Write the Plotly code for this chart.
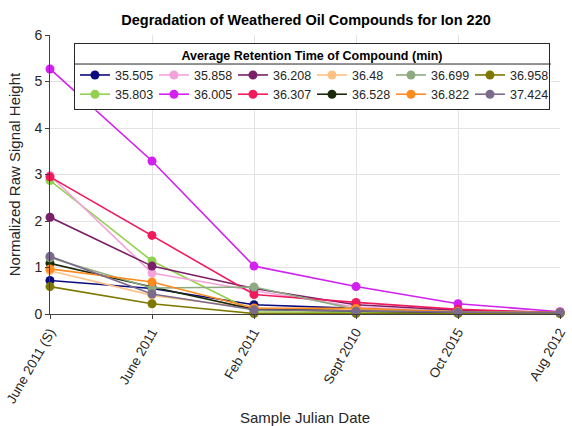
import plotly.graph_objects as go

dates = ["June 2011 (S)", "June 2011", "Feb 2011", "Sept 2010", "Oct 2015", "Aug 2012"]

rt_35_505 = [0.72, 0.55, 0.20, 0.12, 0.06, 0.03]
rt_35_803 = [2.87, 1.14, 0.05, 0.03, 0.02, 0.02]
rt_35_858 = [2.98, 0.88, 0.50, 0.15, 0.06, 0.03]
rt_36_005 = [5.27, 3.29, 1.03, 0.59, 0.22, 0.05]
rt_36_208 = [2.08, 1.03, 0.55, 0.20, 0.08, 0.03]
rt_36_307 = [2.95, 1.69, 0.42, 0.25, 0.10, 0.03]
rt_36_48 = [0.93, 0.40, 0.12, 0.08, 0.04, 0.02]
rt_36_528 = [1.09, 0.58, 0.10, 0.06, 0.03, 0.02]
rt_36_699 = [1.21, 0.56, 0.58, 0.10, 0.05, 0.03]
rt_36_822 = [0.97, 0.69, 0.13, 0.12, 0.05, 0.03]
rt_36_958 = [0.59, 0.22, 0.01, 0.01, 0.01, 0.01]
rt_37_424 = [1.24, 0.43, 0.09, 0.06, 0.04, 0.03]

series = [
    ("35.505", rt_35_505, "#0b0b7e", 1),
    ("35.803", rt_35_803, "#92d050", 7),
    ("35.858", rt_35_858, "#f4a2da", 2),
    ("36.005", rt_36_005, "#d220f0", 8),
    ("36.208", rt_36_208, "#7a1f68", 3),
    ("36.307", rt_36_307, "#f01a5c", 9),
    ("36.48", rt_36_48, "#ffc183", 4),
    ("36.528", rt_36_528, "#1c2a0c", 10),
    ("36.699", rt_36_699, "#8eaa80", 5),
    ("36.822", rt_36_822, "#ff8a1e", 11),
    ("36.958", rt_36_958, "#7f7800", 6),
    ("37.424", rt_37_424, "#7b6a8c", 12),
]

FONT = "Liberation Sans, Arial, sans-serif"

fig = go.Figure()
for name, vals, color, rank in series:
    fig.add_trace(go.Scatter(
        x=list(range(len(dates))), y=vals, name=name, mode="lines+markers",
        line=dict(color=color, width=1.6),
        marker=dict(color=color, size=9, symbol="circle"),
        legendrank=rank, cliponaxis=False,
    ))

fig.update_layout(
    width=572, height=426,
    margin=dict(l=50, r=12, t=35, b=112),
    paper_bgcolor="white", plot_bgcolor="white",
    font=dict(family=FONT, size=13, color="#262626"),
    title=dict(text="<b>Degradation of Weathered Oil Compounds for Ion 220</b>",
               x=0.535, xanchor="center", y=0.953, yanchor="middle",
               font=dict(size=14.5, color="black")),
    showlegend=True,
    legend=dict(
        orientation="h", x=0.047, xanchor="left", y=0.971, yanchor="top",
        bgcolor="rgba(0,0,0,0)", bordercolor="#262626", borderwidth=1,
        entrywidth=34, entrywidthmode="pixels",
        font=dict(size=12.5, color="#262626"),
        title=dict(text="<b>Average Retention Time of Compound (min)</b>",
                   side="top center", font=dict(size=12.5, color="black")),
        tracegroupgap=0, itemwidth=30,
    ),
    xaxis=dict(
        tickmode="array", tickvals=list(range(len(dates))), ticktext=dates,
        range=[0, 5], tickangle=-60, showgrid=True, gridcolor="#e3e3e3",
        showline=True, linecolor="#404040", linewidth=1,
        ticks="outside", ticklen=4, tickcolor="#404040",
        tickfont=dict(size=13.5, color="#262626"), ticklabeloverflow="allow",
        title=dict(text="Sample Julian Date", font=dict(size=15, color="#262626"), standoff=18),
        zeroline=False, automargin=False,
    ),
    yaxis=dict(
        range=[0, 6], dtick=1, showgrid=True, gridcolor="#e3e3e3",
        showline=True, linecolor="#404040", linewidth=1,
        ticks="outside", ticklen=4, tickcolor="#404040",
        tickfont=dict(size=14, color="#262626"),
        title=dict(text="Normalized Raw Signal Height", font=dict(size=15, color="#262626"), standoff=10),
        zeroline=False, automargin=False,
    ),
)

# white backing for the legend box and the separator under its title
fig.add_shape(type="rect", xref="paper", yref="paper", layer="above",
              x0=0.047, x1=0.982, y0=0.73, y1=0.971,
              fillcolor="white", line=dict(width=0))
fig.add_shape(type="line", xref="paper", yref="paper", layer="above",
              x0=0.047, x1=0.982, y0=0.896, y1=0.896,
              line=dict(color="#262626", width=1))

fig.write_html("out.html")
